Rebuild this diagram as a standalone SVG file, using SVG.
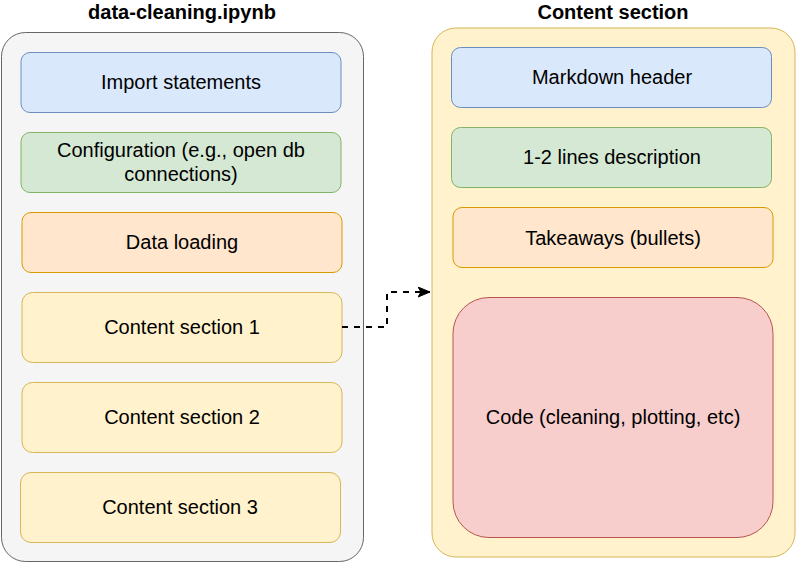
<svg xmlns="http://www.w3.org/2000/svg" width="796" height="563" viewBox="0 0 796 563">
<defs>
<style>
text{font-family:"Liberation Sans",Arial,Helvetica,sans-serif;font-size:20px;fill:#000;text-anchor:middle}
.title{font-weight:bold}
.blue{fill:#dae8fc;stroke:#6c8ebf}
.green{fill:#d5e8d4;stroke:#82b366}
.orange{fill:#ffe6cc;stroke:#d79b00}
.yellow{fill:#fff2cc;stroke:#d6b656}
.red{fill:#f8cecc;stroke:#b85450}
.grey{fill:#f5f5f5;stroke:#666666}
rect{stroke-width:1}
.conn{fill:none;stroke:#000;stroke-width:2;stroke-dasharray:6 6}
</style>
<marker id="arrow" markerUnits="userSpaceOnUse" markerWidth="14" markerHeight="12" refX="12" refY="5" orient="auto" viewBox="0 0 14 12">
<path d="M0,0 L12,5 L0,10 L3,5 Z" fill="#000" stroke="#000" stroke-width="1"/>
</marker>
</defs>

<g id="notebook">
<rect class="grey" x="1.5" y="32.5" width="362" height="529" rx="24" ry="24"/>
<text class="title" x="182" y="19">data-cleaning.ipynb</text>
</g>

<g id="content-section">
<rect class="yellow" x="432" y="28" width="363" height="529" rx="24" ry="24"/>
<text class="title" x="613" y="19">Content section</text>
</g>

<g id="import">
<rect class="blue" x="21" y="52.5" width="320" height="60" rx="9" ry="9"/>
<text x="181" y="89">Import statements</text>
</g>
<g id="configuration">
<rect class="green" x="21" y="132.5" width="320" height="60" rx="9" ry="9"/>
<text x="181" y="157">Configuration (e.g., open db</text>
<text x="181" y="181">connections)</text>
</g>
<g id="data-loading">
<rect class="orange" x="22" y="212.5" width="320" height="60" rx="9" ry="9"/>
<text x="182" y="249">Data loading</text>
</g>
<g id="cs1">
<rect class="yellow" x="22" y="292.5" width="320" height="70" rx="10.5" ry="10.5"/>
<text x="182" y="334">Content section 1</text>
</g>
<g id="cs2">
<rect class="yellow" x="22" y="382.5" width="320" height="70" rx="10.5" ry="10.5"/>
<text x="182" y="424">Content section 2</text>
</g>
<g id="cs3">
<rect class="yellow" x="20.5" y="472.5" width="320" height="70" rx="10.5" ry="10.5"/>
<text x="180" y="514">Content section 3</text>
</g>

<g id="markdown-header">
<rect class="blue" x="451.5" y="47.5" width="320" height="60" rx="9" ry="9"/>
<text x="612" y="84">Markdown header</text>
</g>
<g id="description">
<rect class="green" x="451.5" y="127.5" width="320" height="60" rx="9" ry="9"/>
<text x="612" y="164">1-2 lines description</text>
</g>
<g id="takeaways">
<rect class="orange" x="453" y="207.5" width="320" height="60" rx="9" ry="9"/>
<text x="613" y="245">Takeaways (bullets)</text>
</g>
<g id="code">
<rect class="red" x="453" y="297.5" width="320" height="240" rx="36" ry="36"/>
<text x="613" y="424">Code (cleaning, plotting, etc)</text>
</g>

<g id="connectors">
<path class="conn" d="M342,327 L387,327 L387,292 L430,292" marker-end="url(#arrow)"/>
</g>
</svg>
